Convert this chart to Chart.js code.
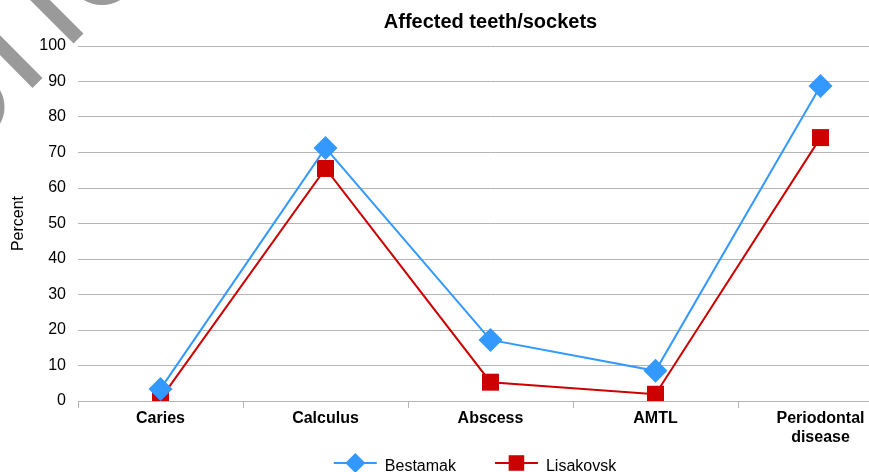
<!DOCTYPE html>
<html>
<head>
<meta charset="utf-8">
<script src="https://cdn.jsdelivr.net/npm/chart.js@4/dist/chart.umd.min.js"></script>
<style>
  html, body { margin: 0; padding: 0; background: #fff; overflow: hidden; width: 869px; height: 472px; }
  #wrap { position: relative; width: 950px; height: 472px; }
</style>
</head>
<body>
<div id="wrap"><canvas id="c" width="950" height="472"></canvas></div>
<script>
// Share of affected teeth/sockets (%) per condition, two sites
const categories = ['Caries', 'Calculus', 'Abscess', 'AMTL', ['Periodontal', 'disease']];
const bestamak   = [3.4, 71.3, 17.2, 8.5, 88.7];
const lisakovsk  = [0.6, 65.5, 5.3, 1.9, 74.2];
const seriesNames = ['Bestamak', 'Lisakovsk'];
const yMin = 0, yMax = 100, yStep = 10;

const FONT = "'Liberation Sans', Arial, sans-serif";
const GRID = '#b4b4b4';
const BLUE = '#3399ff';
const RED = '#cc0000';

// Legend drawn below the axis: line sample with marker, then series name
const bottomLegend = {
  id: 'bottomLegend',
  afterDraw(chart) {
    const ctx = chart.ctx;
    const sampleW = 43, gap = 8, itemGap = 39, centerX = 475, lineY = 463, textY = 471;
    ctx.save();
    ctx.font = '16px ' + FONT;
    const items = chart.data.datasets.map(ds => ({ ds, tw: ctx.measureText(ds.label).width }));
    const total = items.reduce((s, it) => s + sampleW + gap + it.tw, 0) + itemGap * (items.length - 1);
    let x = centerX - total / 2;
    items.forEach(({ ds, tw }) => {
      ctx.strokeStyle = ds.borderColor;
      ctx.lineWidth = 2;
      ctx.beginPath();
      ctx.moveTo(x, lineY);
      ctx.lineTo(x + sampleW, lineY);
      ctx.stroke();
      ctx.fillStyle = ds.pointBackgroundColor;
      Chart.helpers.drawPoint(ctx, { pointStyle: ds.pointStyle, radius: ds.legendRadius, rotation: 0, borderWidth: 0 }, x + sampleW / 2, lineY);
      ctx.fillStyle = '#000';
      ctx.textBaseline = 'alphabetic';
      ctx.textAlign = 'left';
      ctx.fillText(ds.label, x + sampleW + gap, textY);
      x += sampleW + gap + tw + itemGap;
    });
    ctx.restore();
  }
};

// Grey diagonal strokes in the top-left corner
const cornerMarks = {
  id: 'cornerMarks',
  afterDraw(chart) {
    const ctx = chart.ctx;
    ctx.save();
    ctx.strokeStyle = '#9a9a9a';
    ctx.lineCap = 'butt';
    ctx.lineWidth = 14;
    ctx.beginPath();
    ctx.moveTo(20, -20); ctx.lineTo(78.5, 38.5);
    ctx.moveTo(-20, 25); ctx.lineTo(37.5, 83);
    ctx.stroke();
    ctx.lineWidth = 5;
    ctx.beginPath();
    ctx.arc(102, -30, 32.5, 0, Math.PI);
    ctx.stroke();
    ctx.beginPath();
    ctx.arc(-28, 107, 30, -Math.PI / 2, Math.PI / 2);
    ctx.stroke();
    ctx.restore();
  }
};

new Chart(document.getElementById('c'), {
  type: 'line',
  data: {
    labels: categories,
    datasets: [
      {
        label: seriesNames[0],
        data: bestamak,
        borderColor: BLUE,
        backgroundColor: BLUE,
        pointBackgroundColor: BLUE,
        pointBorderColor: BLUE,
        borderWidth: 2,
        pointStyle: 'rectRot',
        pointRadius: 12,
        pointBorderWidth: 0,
        legendRadius: 10,
        tension: 0,
        fill: false
      },
      {
        label: seriesNames[1],
        data: lisakovsk,
        borderColor: RED,
        backgroundColor: RED,
        pointBackgroundColor: RED,
        pointBorderColor: RED,
        borderWidth: 2,
        pointStyle: 'rect',
        pointRadius: 12,
        pointBorderWidth: 0,
        legendRadius: 11,
        tension: 0,
        fill: false
      }
    ]
  },
  options: {
    responsive: false,
    animation: false,
    layout: { padding: { left: 0, right: 47, top: 0, bottom: 25 } },
    plugins: {
      legend: { display: false },
      tooltip: { enabled: false },
      title: {
        display: true,
        text: 'Affected teeth/sockets',
        fullSize: false,
        color: '#000',
        font: { family: FONT, size: 20, weight: 'bold', lineHeight: 1.2 },
        padding: { top: 10, bottom: 12 }
      }
    },
    scales: {
      x: {
        offset: true,
        grid: { offset: true, drawOnChartArea: false, drawTicks: true, tickLength: 7, color: GRID, lineWidth: 1 },
        border: { display: true, color: GRID, width: 1 },
        ticks: { color: '#000', font: { family: FONT, size: 16, weight: 'bold', lineHeight: 1.2 }, padding: 1, maxRotation: 0, autoSkip: false },
        afterFit(scale) { scale.height = 46; }
      },
      y: {
        min: yMin,
        max: yMax,
        ticks: { stepSize: yStep, color: '#000', font: { family: FONT, size: 16 }, padding: 12 },
        grid: { color: GRID, drawTicks: false, lineWidth: 1 },
        border: { display: false },
        title: { display: true, text: 'Percent', color: '#000', font: { family: FONT, size: 16, lineHeight: 1.2 }, padding: { top: 9, bottom: 0 } },
        afterFit(scale) { scale.width = 78; }
      }
    }
  },
  plugins: [bottomLegend, cornerMarks]
});
</script>
</body>
</html>
